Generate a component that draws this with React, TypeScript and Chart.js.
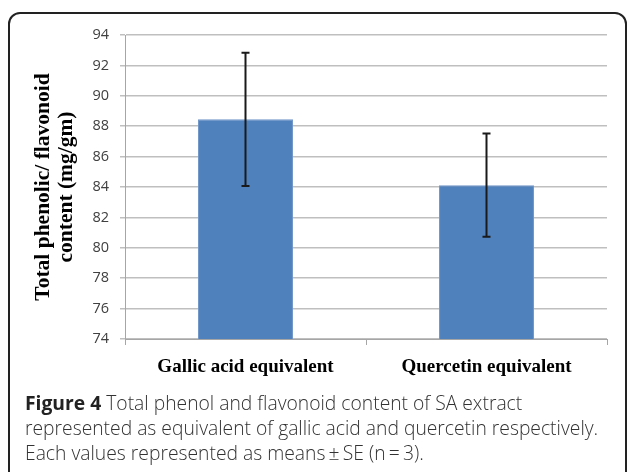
import React, { useEffect, useRef } from "react";
import { Chart, registerables } from "chart.js";

Chart.register(...registerables);

const categories = ["Gallic acid equivalent", "Quercetin equivalent"];
const means = [88.45, 84.12];
const errors = [4.38, 3.4];
const yMin = 74;
const yMax = 94;
const yStep = 2;
const yTitle = ["Total phenolic/ flavonoid", "content (mg/gm)"];
const captionBold = "Figure 4";
const captionLines = [
  " Total phenol and flavonoid content of SA extract",
  "represented as equivalent of gallic acid and quercetin respectively.",
  "Each values represented as means\u2009\u00b1\u2009SE (n\u2009=\u20093).",
];

const errorBarPlugin = {
  id: "errorBars",
  afterDatasetsDraw(chart: any) {
    const meta = chart.getDatasetMeta(0);
    const y = chart.scales.y;
    const ctx = chart.ctx;
    ctx.save();
    ctx.strokeStyle = "#1a1a1a";
    ctx.lineWidth = 2;
    meta.data.forEach((bar: any, i: number) => {
      const x = bar.x;
      const top = y.getPixelForValue(means[i] + errors[i]);
      const bot = y.getPixelForValue(means[i] - errors[i]);
      ctx.beginPath();
      ctx.moveTo(x, top);
      ctx.lineTo(x, bot);
      ctx.moveTo(x - 4, top);
      ctx.lineTo(x + 4, top);
      ctx.moveTo(x - 4, bot);
      ctx.lineTo(x + 4, bot);
      ctx.stroke();
    });
    ctx.restore();
  },
};

export default function App() {
  const ref = useRef<HTMLCanvasElement | null>(null);
  useEffect(() => {
    if (!ref.current) return;
    const chart = new Chart(ref.current, {
      type: "bar",
      data: {
        labels: categories,
        datasets: [
          {
            data: means,
            backgroundColor: "#4f81bd",
            borderColor: "#7095c8",
            borderWidth: 1,
            categoryPercentage: 1,
            barPercentage: 0.394,
          },
        ],
      },
      options: {
        animation: false,
        responsive: false,
        maintainAspectRatio: false,
        layout: { padding: { top: 35, right: 22, left: 0, bottom: 0 } },
        plugins: { legend: { display: false }, tooltip: { enabled: false } },
        scales: {
          x: {
            offset: true,
            grid: {
              offset: true,
              drawOnChartArea: false,
              drawTicks: true,
              tickLength: 6,
              color: "#a6a6a6",
            },
            border: { display: true, color: "#a6a6a6", width: 1 },
            ticks: {
              color: "#000",
              padding: 11,
              font: { family: "Liberation Serif", size: 19, weight: "bold" },
            },
            afterFit(scale: any) {
              scale.height = 51;
            },
          },
          y: {
            min: yMin,
            max: yMax,
            ticks: {
              stepSize: yStep,
              color: "#404040",
              padding: 11,
              font: { family: "Open Sans", size: 14.5 },
            },
            grid: {
              color: "#bfbfbf",
              lineWidth: 1.5,
              tickLength: 5,
              drawTicks: true,
            },
            border: { display: true, color: "#a6a6a6", width: 1 },
            title: {
              display: true,
              text: yTitle,
              color: "#000",
              padding: { top: 31.5, bottom: 0 },
              font: {
                family: "Liberation Serif",
                size: 21.5,
                weight: "bold",
                lineHeight: 1.07,
              },
            },
            afterFit(scale: any) {
              scale.width = 125;
            },
          },
        },
      },
      plugins: [errorBarPlugin],
    } as any);
    return () => chart.destroy();
  }, []);

  return (
    <div
      style={{
        position: "fixed",
        left: 0,
        top: 0,
        width: 629,
        height: 472,
        background: "#fff",
        overflow: "hidden",
      }}
    >
      <div
        style={{
          position: "absolute",
          left: 8,
          top: 12,
          width: 619,
          height: 520,
          boxSizing: "border-box",
          border: "2px solid #222",
          borderRadius: 12,
        }}
      />
      <canvas
        ref={ref}
        width={629}
        height={390}
        style={{ position: "absolute", left: 0, top: 0, width: 629, height: 390 }}
      />
      <div
        style={{
          position: "absolute",
          left: 25,
          top: 390,
          fontFamily: "Open Sans",
          fontSize: 19.3,
          fontWeight: 300,
          lineHeight: "25px",
          color: "#333",
          whiteSpace: "nowrap",
        }}
      >
        <div>
          <span style={{ fontWeight: 700, color: "#222" }}>{captionBold}</span>
          {captionLines[0]}
        </div>
        <div>{captionLines[1]}</div>
        <div>{captionLines[2]}</div>
      </div>
    </div>
  );
}
